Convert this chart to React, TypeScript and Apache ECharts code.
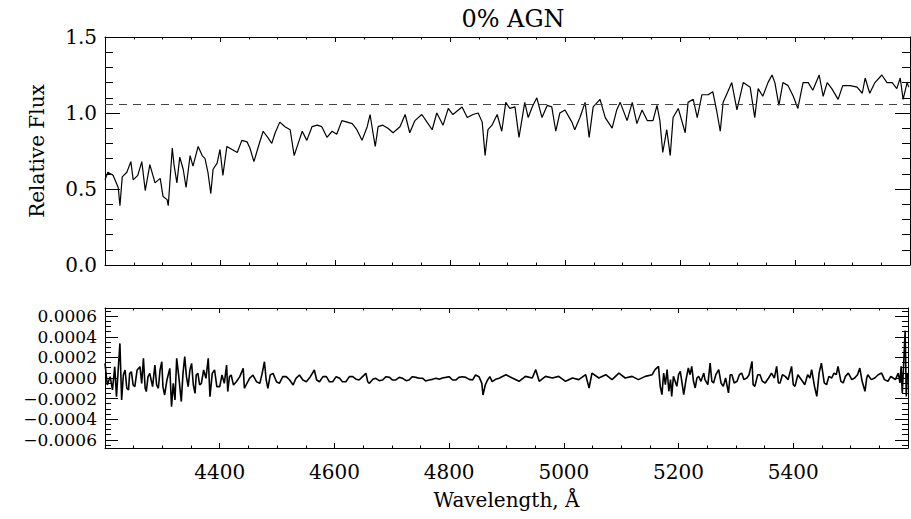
import React, { useEffect, useRef } from "react";
import * as echarts from "echarts";

const titleText = "0% AGN";
const yNameTop = "Relative Flux";
const xName = "Wavelength, Å";

// Upper panel: spectrum (wavelength in Å, relative flux)
const wavelengthTop = [
  4200, 4205, 4214, 4223, 4226, 4230, 4238, 4245, 4249, 4257, 4264, 4270, 4278, 4287, 4296, 4301,
  4308, 4310, 4317, 4320, 4325, 4330, 4336, 4341, 4348, 4353, 4362, 4369, 4374, 4379, 4384, 4388,
  4395, 4400, 4405, 4412, 4421, 4430, 4438, 4447, 4452, 4459, 4466, 4475, 4483, 4490, 4496, 4504,
  4513, 4522, 4529, 4536, 4543, 4551, 4560, 4569, 4577, 4586, 4595, 4603, 4612, 4621, 4630, 4638,
  4647, 4656, 4661, 4666, 4670, 4675, 4683, 4692, 4701, 4710, 4713, 4722, 4730, 4739, 4751, 4760,
  4769, 4777, 4788, 4797, 4805, 4821, 4830, 4840, 4849, 4856, 4861, 4866, 4873, 4882, 4890, 4897,
  4904, 4913, 4920, 4930, 4936, 4943, 4951, 4960, 4969, 4977, 4984, 4991, 5000, 5012, 5017, 5026,
  5035, 5042, 5049, 5061, 5070, 5082, 5090, 5096, 5108, 5117, 5125, 5134, 5143, 5153, 5160, 5165,
  5170, 5177, 5183, 5188, 5197, 5209, 5214, 5223, 5230, 5238, 5249, 5257, 5264, 5270, 5275, 5282,
  5290, 5299, 5310, 5322, 5330, 5336, 5344, 5353, 5360, 5365, 5372, 5379, 5388, 5397, 5405, 5414,
  5423, 5431, 5442, 5449, 5456, 5464, 5475, 5483, 5496, 5508, 5517, 5522, 5530, 5539, 5551, 5560,
  5569, 5577, 5583, 5588, 5595, 5598,
];
const fluxTop = [
  0.56, 0.61, 0.59, 0.51, 0.39, 0.58, 0.61, 0.68, 0.56, 0.59, 0.68, 0.49, 0.66, 0.54, 0.57, 0.45,
  0.43, 0.39, 0.77, 0.66, 0.54, 0.71, 0.63, 0.51, 0.72, 0.65, 0.78, 0.72, 0.70, 0.61, 0.47, 0.63,
  0.67, 0.76, 0.59, 0.78, 0.76, 0.74, 0.82, 0.81, 0.77, 0.68, 0.77, 0.88, 0.84, 0.80, 0.87, 0.94,
  0.91, 0.89, 0.72, 0.80, 0.88, 0.82, 0.91, 0.92, 0.91, 0.84, 0.88, 0.86, 0.95, 0.94, 0.93, 0.89,
  0.82, 0.91, 0.99, 0.87, 0.78, 0.91, 0.92, 0.90, 0.87, 0.90, 0.91, 0.99, 0.87, 0.95, 0.99, 0.94,
  0.89, 1.00, 0.92, 1.03, 0.99, 1.04, 0.97, 0.99, 1.00, 0.94, 0.72, 0.89, 0.92, 0.99, 0.88, 1.07,
  1.03, 1.04, 0.84, 1.07, 0.97, 1.04, 1.10, 0.97, 1.05, 1.04, 0.88, 1.00, 1.02, 0.94, 0.89, 0.97,
  1.07, 0.84, 1.04, 1.09, 0.97, 0.90, 1.02, 1.07, 0.95, 1.07, 0.93, 1.02, 0.95, 0.95, 1.05, 0.95,
  0.74, 0.89, 0.72, 0.97, 1.03, 0.87, 1.07, 1.09, 0.97, 1.12, 1.12, 1.14, 1.01, 0.88, 1.07, 1.13,
  1.20, 1.02, 1.20, 1.17, 0.97, 1.16, 1.11, 1.20, 1.25, 1.20, 1.05, 1.20, 1.18, 1.11, 1.03, 1.20,
  1.20, 1.15, 1.25, 1.11, 1.20, 1.16, 1.09, 1.18, 1.18, 1.17, 1.13, 1.23, 1.13, 1.20, 1.25, 1.20,
  1.20, 1.16, 1.23, 1.09, 1.20, 1.17,
];
const continuumLevel = 1.059;

// Lower panel: residuals (values in units of 1e-4)
const wavelengthRes = [
  4200, 4204, 4209, 4213, 4217, 4220, 4223, 4226, 4229, 4232, 4235, 4238, 4241, 4243, 4246, 4249,
  4252, 4256, 4261, 4264, 4267, 4270, 4272, 4275, 4278, 4283, 4287, 4290, 4293, 4296, 4299, 4301,
  4304, 4308, 4313, 4316, 4319, 4322, 4325, 4329, 4333, 4336, 4339, 4342, 4345, 4348, 4351, 4354,
  4357, 4359, 4362, 4365, 4368, 4372, 4376, 4380, 4383, 4387, 4391, 4395, 4400, 4404, 4408, 4412,
  4414, 4417, 4420, 4424, 4429, 4435, 4441, 4443, 4446, 4452, 4458, 4464, 4470, 4474, 4478, 4481,
  4484, 4488, 4493, 4499, 4504, 4510, 4516, 4522, 4528, 4533, 4539, 4545, 4551, 4558, 4565, 4569,
  4574, 4580, 4586, 4591, 4597, 4603, 4609, 4614, 4620, 4626, 4632, 4638, 4643, 4649, 4655, 4658,
  4661, 4667, 4672, 4678, 4684, 4690, 4696, 4701, 4707, 4713, 4719, 4725, 4730, 4736, 4742, 4748,
  4754, 4759, 4765, 4771, 4777, 4783, 4788, 4794, 4800, 4806, 4812, 4817, 4823, 4829, 4835, 4841,
  4846, 4852, 4857, 4859, 4863, 4867, 4871, 4875, 4881, 4887, 4899, 4910, 4922, 4933, 4945, 4951,
  4957, 4968, 4980, 4991, 5003, 5015, 5026, 5038, 5044, 5049, 5061, 5073, 5084, 5096, 5107, 5119,
  5130, 5142, 5154, 5159, 5165, 5168, 5171, 5174, 5177, 5180, 5183, 5186, 5188, 5191, 5197, 5200,
  5203, 5206, 5209, 5213, 5217, 5220, 5223, 5226, 5229, 5232, 5235, 5239, 5244, 5246, 5251, 5255,
  5258, 5261, 5265, 5270, 5274, 5278, 5282, 5287, 5290, 5293, 5297, 5302, 5306, 5310, 5314, 5319,
  5323, 5328, 5330, 5333, 5338, 5342, 5346, 5351, 5357, 5362, 5367, 5371, 5374, 5377, 5381, 5386,
  5391, 5397, 5400, 5403, 5408, 5412, 5416, 5420, 5425, 5429, 5432, 5437, 5441, 5445, 5449, 5454,
  5458, 5462, 5467, 5471, 5475, 5478, 5483, 5487, 5491, 5496, 5502, 5507, 5512, 5516, 5520, 5525,
  5528, 5530, 5536, 5542, 5548, 5554, 5559, 5565, 5570, 5574, 5578, 5583, 5586, 5588, 5590, 5592,
  5595, 5597, 5599,
];
const residualE4 = [
  1.42, -0.68, 0.13, -1.16, 1.10, -1.81, 0.78, 3.36, -2.13, 0.29, 0.78, -1.00, -1.16, 0.45, 0.61, -0.68,
  -0.84, 0.78, 1.10, -0.52, 1.91, -1.00, -1.32, 0.13, 0.45, -0.84, 1.26, -0.68, -1.00, 0.78, 1.58, -0.84,
  -1.65, -0.19, 0.94, -2.78, -0.52, -2.13, 1.91, -0.03, -2.29, 0.45, 2.07, 0.13, -0.84, 0.78, 1.42, -0.68,
  -1.49, 0.29, 0.45, -0.68, -0.52, 0.78, -0.03, 1.91, -1.81, 0.45, 0.78, -0.84, -0.84, 0.29, -0.52, 1.26,
  -1.32, 0.13, 0.29, -0.68, -0.36, 0.13, 0.94, -1.00, -0.68, -0.03, 0.29, -0.36, -0.52, 0.45, 1.58, -0.19,
  -1.00, 0.29, 0.45, -0.36, -0.52, 0.13, 0.13, -0.19, -0.68, -0.03, 0.29, -0.19, -0.36, 0.13, 0.78, -0.19,
  -0.36, 0.13, 0.13, -0.36, -0.36, 0.13, -0.03, -0.36, -0.36, 0.13, 0.13, -0.13, -0.19, 0.13, 0.45, -0.36,
  -0.52, -0.13, -0.03, -0.26, -0.19, 0.13, 0.06, -0.19, -0.19, 0.06, -0.03, -0.26, -0.19, 0.13, 0.06, -0.03,
  -0.03, -0.29, -0.19, -0.13, -0.03, -0.13, 0.00, 0.06, 0.13, -0.19, -0.19, 0.06, 0.13, 0.06, -0.13, -0.19,
  0.29, 0.13, -0.52, -1.65, -0.68, -0.19, 0.13, -0.36, -0.13, -0.03, 0.32, 0.00, -0.32, 0.16, 0.00, 0.81,
  -0.32, 0.16, 0.00, 0.16, -0.32, 0.00, -0.16, 0.32, -0.97, 0.48, 0.00, 0.32, -0.16, 0.48, 0.00, 0.16,
  -0.16, 0.16, 0.32, 0.81, 1.13, -0.81, -1.62, 0.48, -0.65, 0.81, -1.29, -0.16, -1.78, 0.16, -0.81, 0.32,
  0.65, -0.48, -1.62, -0.16, 0.97, 0.32, 1.13, -0.32, -0.97, 0.00, 0.16, -0.32, 0.48, -0.16, -0.65, 1.45,
  -0.32, -0.48, 0.32, 0.81, -0.48, -0.81, 0.00, -1.45, 0.32, 0.32, -0.48, -0.32, 0.32, 0.48, -0.16, 0.00,
  0.32, 1.62, -0.65, -0.81, 0.32, 0.32, -0.32, -0.48, 0.00, 0.48, 0.00, 1.13, -0.48, -0.48, 0.32, 0.16,
  -0.16, 1.13, -0.65, -0.81, 0.32, 0.00, -0.32, -0.65, 0.32, 0.00, 0.81, -0.81, -1.78, 0.48, 1.45, -0.48,
  -0.65, 0.16, 0.00, 0.48, 0.32, 1.13, -0.32, -0.48, 0.16, 0.48, -0.16, 0.00, 0.32, 0.97, -0.32, -1.29,
  0.00, 0.32, -0.16, 0.00, 0.32, 0.48, -0.16, -0.32, 0.16, 0.00, -0.16, 0.48, -0.48, 1.13, -1.45, 0.81,
  4.6, -1.8, 0.5,
];

const wavelengthTickLabels = [4400, 4600, 4800, 5000, 5200, 5400];
const residualTickLabels = [-0.0006, -0.0004, -0.0002, 0, 0.0002, 0.0004, 0.0006];

export default function App() {
  const ref = useRef<HTMLDivElement>(null);

  useEffect(() => {
    const chart = echarts.init(ref.current!, null, { renderer: "svg" });
    const font = "DejaVu Serif";
    const ink = "#000";

    const topData = wavelengthTop.map((w, i) => [w, fluxTop[i]]);
    const resData = wavelengthRes.map((w, i) => [w, residualE4[i] * 1e-4]);

    const minorRes: number[] = [];
    for (let k = -13; k <= 13; k++) {
      if (k % 4 !== 0) minorRes.push(k * 0.00005);
    }

    const xBase = (gridIndex: number, position: string, labels: boolean) => ({
      type: "value",
      gridIndex,
      position,
      min: 4200,
      max: 5600,
      interval: 200,
      axisLine: { show: true, onZero: false, lineStyle: { color: ink, width: 1 } },
      axisTick: { show: true, inside: true, length: 5, lineStyle: { color: ink } },
      minorTick: { show: true, splitNumber: 4, length: 2.5, lineStyle: { color: ink } },
      splitLine: { show: false },
      minorSplitLine: { show: false },
      axisLabel: labels
        ? {
            show: true,
            margin: 14,
            fontFamily: font,
            fontSize: 20,
            color: ink,
            formatter: (v: number) => (wavelengthTickLabels.includes(v) ? String(v) : ""),
          }
        : { show: false },
    });

    const yTop = (position: string, labels: boolean) => ({
      type: "value",
      gridIndex: 0,
      position,
      min: 0,
      max: 1.5,
      interval: 0.5,
      axisLine: { show: true, onZero: false, lineStyle: { color: ink, width: 1 } },
      axisTick: { show: true, inside: true, length: 15, lineStyle: { color: ink } },
      minorTick: { show: true, splitNumber: 5, length: 8, lineStyle: { color: ink } },
      splitLine: { show: false },
      minorSplitLine: { show: false },
      axisLabel: labels
        ? { show: true, margin: 8, fontFamily: font, fontSize: 20, color: ink, formatter: (v: number) => v.toFixed(1) }
        : { show: false },
      ...(labels
        ? {
            name: yNameTop,
            nameLocation: "middle",
            nameRotate: 90,
            nameGap: 58,
            nameTextStyle: { fontFamily: font, fontSize: 20, color: ink },
          }
        : {}),
    });

    const yRes = (position: string, labels: boolean) => ({
      type: "value",
      gridIndex: 1,
      position,
      min: -0.00068,
      max: 0.00068,
      axisLine: { show: true, onZero: false, lineStyle: { color: ink, width: 1 } },
      axisTick: { show: true, inside: true, length: 13, customValues: residualTickLabels, lineStyle: { color: ink } },
      splitLine: { show: false },
      axisLabel: labels
        ? {
            show: true,
            margin: 8,
            fontFamily: font,
            fontSize: 17,
            lineHeight: 17,
            color: ink,
            customValues: residualTickLabels,
            formatter: (v: number) => (Math.abs(v) < 1e-12 ? "0.0000" : (v < 0 ? "\u2212" : "") + Math.abs(v).toFixed(4)),
          }
        : { show: false },
    });

    const yResMinor = (position: string) => ({
      type: "value",
      gridIndex: 1,
      position,
      min: -0.00068,
      max: 0.00068,
      axisLine: { show: false },
      axisTick: { show: true, inside: true, length: 6, customValues: minorRes, lineStyle: { color: ink } },
      splitLine: { show: false },
      axisLabel: { show: false },
    });

    const option: any = {
      animation: false,
      backgroundColor: "#fff",
      title: {
        text: titleText,
        left: 508,
        top: 2,
        textAlign: "center",
        textStyle: { fontFamily: font, fontSize: 24, fontWeight: "normal", color: ink },
      },
      grid: [
        { left: 105, top: 37, width: 805, height: 228, containLabel: false },
        { left: 105, top: 308, width: 805, height: 140, containLabel: false },
      ],
      xAxis: [
        xBase(0, "bottom", false),
        xBase(0, "top", false),
        {
          ...xBase(1, "bottom", true),
          name: xName,
          nameLocation: "middle",
          nameGap: 42,
          nameTextStyle: { fontFamily: font, fontSize: 20, color: ink },
        },
        xBase(1, "top", false),
      ],
      yAxis: [yTop("left", true), yTop("right", false), yRes("left", true), yRes("right", false), yResMinor("left"), yResMinor("right")],
      series: [
        {
          type: "line",
          xAxisIndex: 0,
          yAxisIndex: 0,
          data: topData,
          showSymbol: false,
          symbol: "none",
          lineStyle: { color: ink, width: 1.2 },
          markLine: {
            silent: true,
            symbol: ["none", "none"],
            label: { show: false },
            lineStyle: { color: "#444", type: [8, 6], width: 1.2 },
            data: [{ yAxis: continuumLevel }],
          },
        },
        {
          type: "line",
          xAxisIndex: 2,
          yAxisIndex: 2,
          data: resData,
          showSymbol: false,
          symbol: "none",
          lineStyle: { color: ink, width: 1.6 },
        },
      ],
    };

    chart.setOption(option);
    return () => chart.dispose();
  }, []);

  return (
    <div
      ref={ref}
      style={{ position: "fixed", left: 0, top: 0, width: 911, height: 519, background: "#fff" }}
    />
  );
}
